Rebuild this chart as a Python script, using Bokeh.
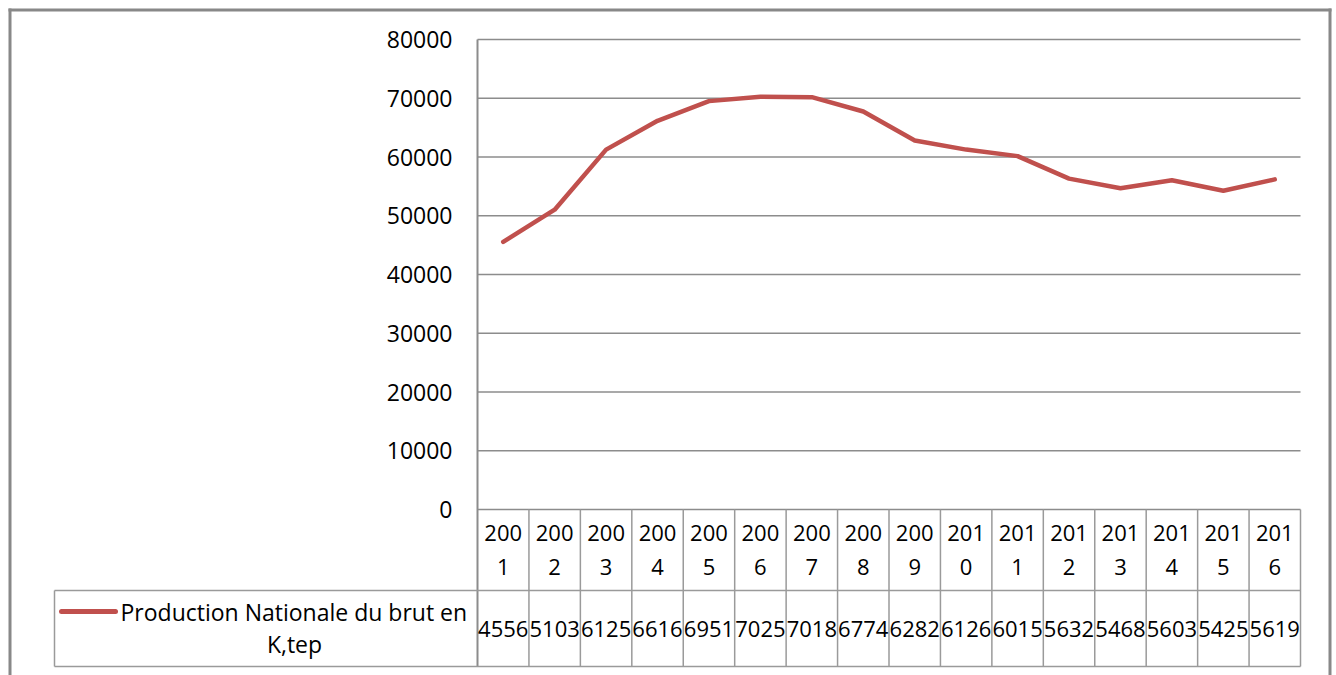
from bokeh.plotting import figure
from bokeh.models import Range1d
from bokeh.core.properties import value
from bokeh.embed import file_html
from bokeh.resources import INLINE

# ---------------- data ----------------
years = ["2001", "2002", "2003", "2004", "2005", "2006", "2007", "2008",
         "2009", "2010", "2011", "2012", "2013", "2014", "2015", "2016"]
production = [45560, 51030, 61250, 66160, 69510, 70250, 70180, 67740,
              62820, 61260, 60150, 56320, 54680, 56030, 54250, 56190]
series_name = "Production Nationale du brut en K,tep"
y_ticks = [0, 10000, 20000, 30000, 40000, 50000, 60000, 70000, 80000]

# ---------------- layout (page pixels) ----------------
ORIGIN = 0
FIG_W, FIG_H = 1334, 675
PLOT_L, PLOT_R, PLOT_T, PLOT_B = 477, 1300, 39, 509
ROW1_B, ROW2_B, LEG_L = 590, 666, 54
Y_MAX = y_ticks[-1]
n = len(years)
cat_w = (PLOT_R - PLOT_L) / n
ypp = Y_MAX / (PLOT_B - PLOT_T)


def xd(px):
    return 0.5 + (px - PLOT_L) / cat_w


def yd(py):
    return (PLOT_B - py) * ypp


FONT = value("Open Sans")
GRID = "#8c8c8c"
CELL = "#9a9a9a"
RED = "#C0504D"

p = figure(width=FIG_W, height=FIG_H,
           x_range=Range1d(xd(ORIGIN), xd(ORIGIN + FIG_W)),
           y_range=Range1d(yd(ORIGIN + FIG_H), yd(ORIGIN)),
           x_axis_location=None, y_axis_location=None,
           output_backend="svg", toolbar_location=None, min_border=0)
p.grid.visible = False
p.outline_line_color = None
p.background_fill_color = "white"
p.border_fill_color = "white"

xs = list(range(1, n + 1))

# gridlines (including the zero line = top of table)
p.segment(x0=[xd(PLOT_L)] * len(y_ticks), x1=[xd(PLOT_R)] * len(y_ticks),
          y0=y_ticks, y1=y_ticks, line_color=GRID, line_width=1.5)

# y tick labels
p.text(x=[xd(PLOT_L)] * len(y_ticks), y=y_ticks, text=[str(t) for t in y_ticks],
       x_offset=-25, text_align="right", text_baseline="middle",
       text_font=FONT, text_font_size="23px", text_color="#000000")

# vertical axis line through table
p.segment(x0=[0.5], x1=[0.5], y0=[yd(PLOT_T)], y1=[yd(ROW2_B)],
          line_color=GRID, line_width=2)
# cell vertical boundaries
bounds = [k + 0.5 for k in range(1, n + 1)]
p.segment(x0=bounds, x1=bounds, y0=[0] * n, y1=[yd(ROW2_B)] * n,
          line_color=CELL, line_width=1.5)
# table horizontal lines
p.segment(x0=[xd(LEG_L)] * 2, x1=[xd(PLOT_R)] * 2,
          y0=[yd(ROW1_B), yd(ROW2_B)], y1=[yd(ROW1_B), yd(ROW2_B)],
          line_color=CELL, line_width=1.5)
# legend cell left
p.segment(x0=[xd(LEG_L)], x1=[xd(LEG_L)], y0=[yd(ROW1_B)], y1=[yd(ROW2_B)],
          line_color=CELL, line_width=1.5)

# main series line
p.line(xs, production, line_width=4.5, line_color=RED, line_join="round",
       line_cap="round")

# year labels (wrapped)
p.text(x=xs, y=[yd(532)] * n, text=[y[:3] for y in years],
       text_align="center", text_baseline="middle",
       text_font=FONT, text_font_size="22px", text_color="#000000")
p.text(x=xs, y=[yd(566)] * n, text=[y[3:] for y in years],
       text_align="center", text_baseline="middle",
       text_font=FONT, text_font_size="22px", text_color="#000000")

# data table values (as shown, truncated)
p.text(x=xs, y=[yd(628)] * n, text=[str(v)[:4] for v in production],
       text_align="center", text_baseline="middle",
       text_font=FONT, text_font_size="22px", text_color="#000000")

# legend key
p.line(x=[xd(61), xd(115)], y=[yd(611), yd(611)], line_width=5,
       line_color=RED, line_cap="round")
name1, name2 = series_name.rsplit(" ", 1)
p.text(x=[xd(120)], y=[yd(611)], text=[name1], text_align="left",
       text_baseline="middle", text_font=FONT, text_font_size="23px",
       text_color="#000000")
p.text(x=[xd(294)], y=[yd(643)], text=[name2], text_align="center",
       text_baseline="middle", text_font=FONT, text_font_size="23px",
       text_color="#000000")

# outer chart border (left, top, right)
p.segment(x0=[xd(9.5), xd(8), xd(1329.5)], x1=[xd(9.5), xd(1331), xd(1329.5)],
          y0=[yd(8), yd(9.5), yd(8)], y1=[yd(675), yd(9.5), yd(675)],
          line_color="#888888", line_width=3)

open("out.html", "w").write(file_html(p, INLINE))
